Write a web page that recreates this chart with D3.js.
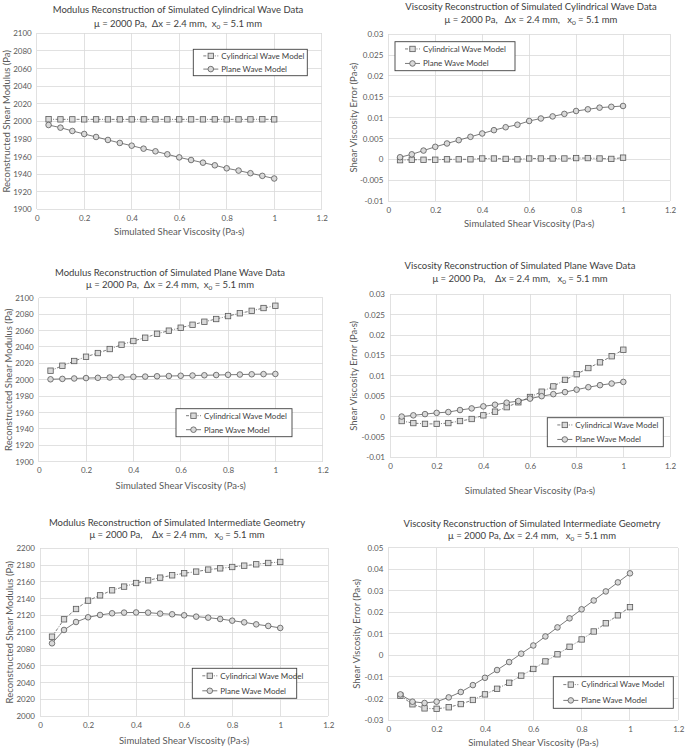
<!DOCTYPE html>
<html><head><meta charset="utf-8">
<script src="https://cdn.jsdelivr.net/npm/d3@7"></script>
<style>body{margin:0;background:#fff}svg{display:block;font-family:Lato,'Open Sans',sans-serif}</style>
</head><body><svg id="c" width="685" height="750"></svg>
<script>
const viscosity = [0.05,0.1,0.15,0.2,0.25,0.3,0.35,0.4,0.45,0.5,0.55,0.6,0.65,0.7,0.75,0.8,0.85,0.9,0.95,1.0];
const seriesNames = ["Cylindrical Wave Model","Plane Wave Model"];
// Panel 1: Modulus, cylindrical data
const modCylData_cyl = [2002.3,2002.2,2002.2,2002.2,2002.2,2002.2,2002.2,2002.2,2002.2,2002.2,2002.2,2002.2,2002.2,2002.2,2002.2,2002.2,2002.2,2002.2,2002.3,2002.2];
const modCylData_plane = [1995.8,1992.8,1989.0,1985.6,1982.2,1978.8,1975.4,1972.3,1968.9,1965.9,1962.5,1959.0,1956.0,1953.0,1950.0,1946.6,1944.0,1941.0,1938.0,1935.0];
// Panel 2: Viscosity, cylindrical data
const visCylData_cyl = [-0.0002,-0.0001,-0.0001,-0.0001,0,0,0,0.0002,0.0002,0.0001,0,0.0002,0.0002,0.0002,0.0002,0.0003,0.0003,0.0002,0.0001,0.0004];
const visCylData_plane = [0.0005,0.0012,0.0021,0.0030,0.0038,0.0046,0.0054,0.0062,0.0070,0.0077,0.0083,0.0092,0.0098,0.0103,0.0109,0.0116,0.0120,0.0124,0.0126,0.0128];
// Panel 3: Modulus, plane data
const modPlaneData_cyl = [2011.0,2017.0,2022.8,2028.0,2032.5,2037.4,2042.7,2047.2,2051.2,2056.0,2059.8,2063.4,2067.0,2070.7,2074.0,2077.6,2081.0,2084.0,2087.4,2090.2];
const modPlaneData_plane = [2000.5,2001.0,2001.5,2002.0,2002.3,2002.7,2003.0,2003.5,2003.8,2004.2,2004.5,2004.8,2005.1,2005.4,2005.7,2006.0,2006.3,2006.6,2006.8,2007.0];
// Panel 4: Viscosity, plane data
const visPlaneData_cyl = [-0.0011,-0.0016,-0.0018,-0.0018,-0.0016,-0.0011,-0.0006,0.0003,0.0012,0.0023,0.0035,0.0048,0.0061,0.0074,0.0090,0.0104,0.0119,0.0133,0.0148,0.0164];
const visPlaneData_plane = [0.0000,0.0003,0.0006,0.0009,0.0011,0.0016,0.0020,0.0025,0.0029,0.0034,0.0038,0.0044,0.0050,0.0055,0.0060,0.0066,0.0072,0.0077,0.0081,0.0085];
// Panel 5: Modulus, intermediate geometry
const modInterData_cyl = [2094.6,2115.3,2127.6,2137.6,2143.9,2149.9,2154.3,2158.6,2161.8,2165.0,2167.8,2170.2,2172.2,2174.6,2176.1,2177.7,2179.3,2180.9,2182.5,2183.7];
const modInterData_plane = [2086.7,2102.6,2112.1,2117.7,2120.5,2122.5,2123.3,2123.5,2123.3,2122.1,2121.3,2120.1,2118.5,2117.3,2115.7,2113.7,2111.7,2109.3,2107.4,2105.0];
// Panel 6: Viscosity, intermediate geometry
const visInterData_cyl = [-0.0187,-0.0227,-0.0246,-0.0248,-0.0241,-0.0226,-0.0207,-0.0181,-0.0155,-0.0127,-0.0094,-0.0063,-0.0028,0.0005,0.0040,0.0074,0.0111,0.0149,0.0186,0.0224];
const visInterData_plane = [-0.0181,-0.0215,-0.0221,-0.0215,-0.0195,-0.0170,-0.0138,-0.0104,-0.0068,-0.0031,0.0008,0.0046,0.0088,0.0130,0.0172,0.0214,0.0255,0.0297,0.0339,0.0381];

const xTicks = [0,0.2,0.4,0.6,0.8,1,1.2];
const yTicksMod1 = [1900,1920,1940,1960,1980,2000,2020,2040,2060,2080,2100];
const yTicksVis1 = [-0.01,-0.005,0,0.005,0.01,0.015,0.02,0.025,0.03];
const yTicksMod2 = [2000,2020,2040,2060,2080,2100,2120,2140,2160,2180,2200];
const yTicksVis2 = [-0.03,-0.02,-0.01,0,0.01,0.02,0.03,0.04,0.05];

const titles = [
  "Modulus Reconstruction of Simulated Cylindrical Wave Data",
  "Viscosity Reconstruction of Simulated Cylindrical Wave Data",
  "Modulus Reconstruction of Simulated Plane Wave Data",
  "Viscosity Reconstruction of Simulated Plane Wave Data",
  "Modulus Reconstruction of Simulated Intermediate Geometry",
  "Viscosity Reconstruction of Simulated Intermediate Geometry"
];
const subPre = ["μ = 2000 Pa,  Δx = 2.4 mm,  x","μ = 2000 Pa,   Δx = 2.4 mm,   x","μ = 2000 Pa,  Δx = 2.4 mm,  x","μ = 2000 Pa,    Δx = 2.4 mm,   x","μ = 2000 Pa,    Δx = 2.4 mm,   x","μ = 2000 Pa, Δx = 2.4 mm,   x"];
const xLabel = "Simulated Shear Viscosity (Pa·s)";
const yLabels = ["Reconstructed Shear Modulus (Pa)","Shear Viscosity  Error (Pa·s)"];

// layout (positions only)
const panels = [
  {cyl:modCylData_cyl, pl:modCylData_plane, yt:yTicksMod1, yl:0, l:36.7,r:321.7,t:33.3,b:209.3, tx:178, t1:13, t2:26.5, xt:235, ylx:7,
   lg:{x:193.3,y:49.3,w:114,h:26.4}},
  {cyl:visCylData_cyl, pl:visCylData_plane, yt:yTicksVis1, yl:1, l:388.3,r:670,t:34.3,b:201, tx:531, t1:9.5, t2:22.5, xt:227, ylx:354,
   lg:{x:395,y:41.7,w:120,h:29}},
  {cyl:modPlaneData_cyl, pl:modPlaneData_plane, yt:yTicksMod1, yl:0, l:38.7,r:322.7,t:297.7,b:461.7, tx:170, t1:276, t2:288, xt:488.5, ylx:9,
   lg:{x:176,y:408.7,w:116,h:28}},
  {cyl:visPlaneData_cyl, pl:visPlaneData_plane, yt:yTicksVis1, yl:1, l:390,r:670,t:294.3,b:457.3, tx:520, t1:269, t2:281.5, xt:493.5, ylx:354,
   lg:{x:547.3,y:417.7,w:116,h:29}},
  {cyl:modInterData_cyl, pl:modInterData_plane, yt:yTicksMod2, yl:0, l:40,r:328.3,t:548.3,b:716, tx:177, t1:526, t2:538, xt:743.5, ylx:10,
   lg:{x:192.3,y:668.3,w:104.4,h:30}},
  {cyl:visInterData_cyl, pl:visInterData_plane, yt:yTicksVis2, yl:1, l:388.3,r:678.3,t:547.7,b:720, tx:532, t1:527, t2:538.5, xt:745.5, ylx:357,
   lg:{x:553.3,y:676.7,w:120,h:31.6}}
];

const svg = d3.select("#c");
const gridC = "#d9d9d9", textC = "#595959", lineC = "#595959", fillC = "#d9d9d9";

panels.forEach((p,i) => {
  const g = svg.append("g");
  const x = d3.scaleLinear().domain([0,1.2]).range([p.l,p.r]);
  const y = d3.scaleLinear().domain([p.yt[0], p.yt[p.yt.length-1]]).range([p.b,p.t]);
  // grid
  g.append("g").selectAll("line").data(p.yt).join("line")
    .attr("x1",p.l).attr("x2",p.r).attr("y1",d=>y(d)).attr("y2",d=>y(d))
    .attr("stroke",gridC).attr("stroke-width",0.8).attr("shape-rendering","crispEdges");
  g.append("g").selectAll("line").data(xTicks).join("line")
    .attr("y1",p.t).attr("y2",p.b).attr("x1",d=>x(d)).attr("x2",d=>x(d))
    .attr("stroke",gridC).attr("stroke-width",0.8).attr("shape-rendering","crispEdges");
  // axes via d3 axis (labels only)
  const xa = g.append("g").attr("transform",`translate(0,${p.b})`)
    .call(d3.axisBottom(x).tickValues(xTicks).tickFormat(d=>String(d)).tickSize(0).tickPadding(6));
  const ya = g.append("g").attr("transform",`translate(${p.l},0)`)
    .call(d3.axisLeft(y).tickValues(p.yt).tickFormat(d=>String(d)).tickSize(0).tickPadding(5));
  [xa,ya].forEach(a=>{a.select(".domain").remove(); a.selectAll("text").attr("fill",textC).attr("font-size",8).attr("font-family","Lato, sans-serif");});
  // titles
  g.append("text").attr("x",p.tx).attr("y",p.t1).attr("text-anchor","middle").attr("font-size",9.5).attr("fill","#404040").text(titles[i]);
  const st = g.append("text").attr("x",p.tx).attr("y",p.t2).attr("text-anchor","middle").attr("font-size",9.5).attr("fill","#404040").style("white-space","pre");
  st.append("tspan").text(subPre[i]);
  st.append("tspan").attr("font-size",6.5).attr("dy",2).text("0");
  st.append("tspan").attr("dy",-2).text(" = 5.1 mm");
  g.append("text").attr("x",(p.l+p.r)/2).attr("y",p.xt).attr("text-anchor","middle").attr("font-size",9.5).attr("fill",textC).text(xLabel);
  g.append("text").attr("transform",`translate(${p.ylx},${(p.t+p.b)/2}) rotate(-90)`).attr("text-anchor","middle").attr("dy","0.35em").attr("font-size",9.5).attr("fill",textC).text(yLabels[p.yl]);
  // lines
  const lineGen = d3.line().x((d,j)=>x(viscosity[j])).y(d=>y(d));
  g.append("path").datum(p.cyl).attr("d",lineGen).attr("fill","none").attr("stroke",lineC).attr("stroke-width",0.8).attr("stroke-dasharray","3,1.5,1,1.5");
  g.append("path").datum(p.pl).attr("d",lineGen).attr("fill","none").attr("stroke",lineC).attr("stroke-width",0.8);
  g.append("g").selectAll("rect").data(p.cyl).join("rect")
    .attr("x",(d,j)=>x(viscosity[j])-2.7).attr("y",d=>y(d)-2.7).attr("width",5.4).attr("height",5.4)
    .attr("fill",fillC).attr("stroke",lineC).attr("stroke-width",0.8);
  g.append("g").selectAll("circle").data(p.pl).join("circle")
    .attr("cx",(d,j)=>x(viscosity[j])).attr("cy",d=>y(d)).attr("r",2.8)
    .attr("fill",fillC).attr("stroke",lineC).attr("stroke-width",0.8);
  // legend
  const L = p.lg;
  const lgG = g.append("g");
  lgG.append("rect").attr("x",L.x).attr("y",L.y).attr("width",L.w).attr("height",L.h).attr("fill","#fff").attr("stroke","#404040").attr("stroke-width",0.9);
  const rows = [L.y+L.h*0.25, L.y+L.h*0.75];
  const sx = L.x+10;
  seriesNames.forEach((nm,k)=>{
    const ry = rows[k];
    lgG.append("line").attr("x1",sx).attr("x2",sx+15).attr("y1",ry).attr("y2",ry).attr("stroke",lineC).attr("stroke-width",0.8)
      .attr("stroke-dasharray",k===0?"3,1.5,1,1.5":null);
    if(k===0) lgG.append("rect").attr("x",sx+7.5-2.7).attr("y",ry-2.7).attr("width",5.4).attr("height",5.4).attr("fill",fillC).attr("stroke",lineC).attr("stroke-width",0.8);
    else lgG.append("circle").attr("cx",sx+7.5).attr("cy",ry).attr("r",2.8).attr("fill",fillC).attr("stroke",lineC).attr("stroke-width",0.8);
    lgG.append("text").attr("x",sx+18).attr("y",ry).attr("dy","0.35em").attr("font-size",8).attr("fill","#404040").text(nm);
  });
});
</script></body></html>
